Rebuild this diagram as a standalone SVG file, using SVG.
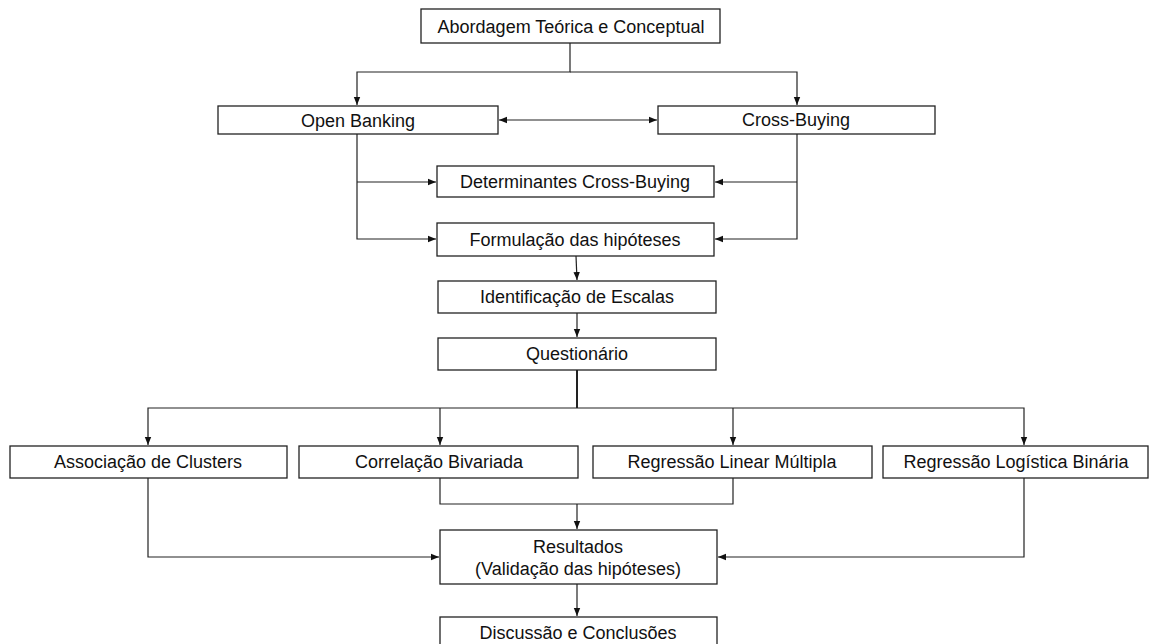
<svg xmlns="http://www.w3.org/2000/svg" width="1156" height="644" viewBox="0 0 1156 644">
<style>
.box{fill:#fff;stroke:#222;stroke-width:1.3}
.t{font-family:"Liberation Sans",Arial,sans-serif;font-size:18px;fill:#111;text-anchor:middle;dominant-baseline:central}
.c{fill:none;stroke:#222;stroke-width:1.2}
</style>
<defs>
<marker id="a" viewBox="0 0 10 10" refX="10" refY="5" markerWidth="8" markerHeight="8" markerUnits="userSpaceOnUse" orient="auto-start-reverse"><path d="M0,1 L10,5 L0,9 Z" fill="#111"/></marker>
</defs>
<rect width="1156" height="644" fill="#fff"/>
<g id="connectors">
<path class="c" d="M570,43 V72 H357 V105" marker-end="url(#a)"/>
<path class="c" d="M570,72 H797 V105" marker-end="url(#a)"/>
<path class="c" d="M499,120 H657" marker-start="url(#a)" marker-end="url(#a)"/>
<path class="c" d="M357,134 V239 H436" marker-end="url(#a)"/>
<path class="c" d="M357,182 H436" marker-end="url(#a)"/>
<path class="c" d="M797,134 V239 H715" marker-end="url(#a)"/>
<path class="c" d="M797,182 H715" marker-end="url(#a)"/>
<path class="c" d="M576,256 L577,280" marker-end="url(#a)"/>
<path class="c" d="M577,313 V337" marker-end="url(#a)"/>
<path class="c" d="M577,370 V408" style="stroke-width:2"/>
<path class="c" d="M577,408 H148 V445" marker-end="url(#a)"/>
<path class="c" d="M440,408 V445" marker-end="url(#a)"/>
<path class="c" d="M577,408 H1024 V445" marker-end="url(#a)"/>
<path class="c" d="M733,408 V445" marker-end="url(#a)"/>
<path class="c" d="M440,478 V504 H733 V478"/>
<path class="c" d="M577,504 V529" marker-end="url(#a)"/>
<path class="c" d="M148,478 V557 H439" marker-end="url(#a)"/>
<path class="c" d="M1024,478 V557 H718" marker-end="url(#a)"/>
<path class="c" d="M577,584 V616" marker-end="url(#a)"/>
</g>
<g id="n1"><rect class="box" x="421" y="9" width="299" height="34"/><text class="t" x="571" y="27">Abordagem Teórica e Conceptual</text></g>
<g id="n2"><rect class="box" x="218" y="106" width="280" height="28"/><text class="t" x="358" y="121">Open Banking</text></g>
<g id="n3"><rect class="box" x="658" y="106" width="277" height="28"/><text class="t" x="796" y="120">Cross-Buying</text></g>
<g id="n4"><rect class="box" x="437" y="166" width="277" height="31"/><text class="t" x="575" y="182">Determinantes Cross-Buying</text></g>
<g id="n5"><rect class="box" x="437" y="223" width="277" height="33"/><text class="t" x="575" y="240">Formulação das hipóteses</text></g>
<g id="n6"><rect class="box" x="438" y="281" width="278" height="32"/><text class="t" x="577" y="297">Identificação de Escalas</text></g>
<g id="n7"><rect class="box" x="438" y="338" width="278" height="32"/><text class="t" x="577" y="354">Questionário</text></g>
<g id="n8"><rect class="box" x="10" y="446" width="277" height="32"/><text class="t" x="148" y="462">Associação de Clusters</text></g>
<g id="n9"><rect class="box" x="299" y="446" width="279" height="32"/><text class="t" x="439" y="462">Correlação Bivariada</text></g>
<g id="n10"><rect class="box" x="593" y="446" width="279" height="32"/><text class="t" x="732" y="462">Regressão Linear Múltipla</text></g>
<g id="n11"><rect class="box" x="883" y="446" width="265" height="32"/><text class="t" x="1016" y="462">Regressão Logística Binária</text></g>
<g id="n12"><rect class="box" x="440" y="530" width="277" height="54"/><text class="t" x="578" y="547">Resultados</text><text class="t" x="578" y="569">(Validação das hipóteses)</text></g>
<g id="n13"><rect class="box" x="440" y="617" width="277" height="32"/><text class="t" x="578" y="633">Discussão e Conclusões</text></g>
</svg>
